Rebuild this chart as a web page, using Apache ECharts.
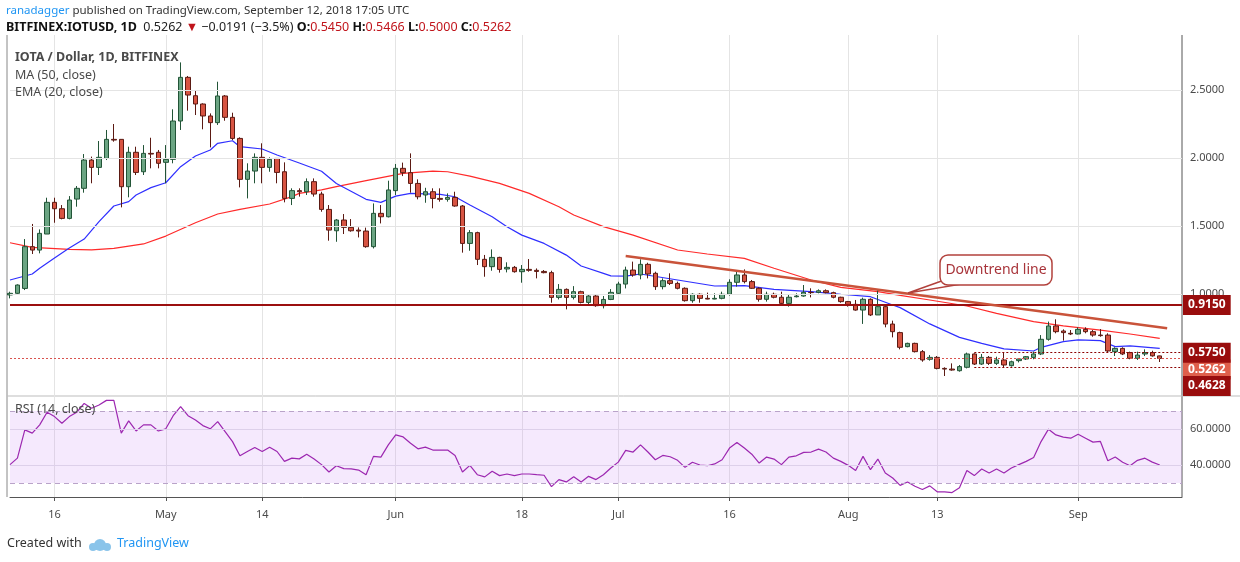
<!DOCTYPE html>
<html>
<head>
<meta charset="utf-8">
<script src="https://cdn.jsdelivr.net/npm/echarts@6/dist/echarts.min.js"></script>
<style>html,body{margin:0;padding:0;background:#fff;}#main{width:1240px;height:562px;}</style>
</head>
<body>
<div id="main"></div>
<script>
// 起始日期与K线数量(另加3个空白日)
var startDate = '2018-04-10';
var dayNum = 159;

// K线 [open, close, low, high]
var candles = [
 [0.993,1.005,0.968,1.017],[1.005,1.066,1.0,1.071],[1.041,1.348,1.029,1.404],[1.348,1.323,1.294,1.515],
 [1.323,1.446,1.299,1.475],[1.441,1.674,1.441,1.708],[1.674,1.627,1.524,1.708],[1.627,1.556,1.549,1.654],
 [1.556,1.691,1.549,1.72],[1.698,1.777,1.642,1.794],[1.777,1.985,1.745,2.029],[1.985,1.931,1.814,2.01],
 [1.931,2.005,1.875,2.125],[1.997,2.137,1.985,2.206],[2.137,2.132,2.12,2.25],[2.137,1.789,1.637,2.137],
 [1.789,2.042,1.711,2.083],[2.042,1.894,1.875,2.083],[1.899,2.034,1.875,2.095],[2.034,2.029,1.924,2.149],
 [2.042,1.961,1.924,2.059],[1.968,1.99,1.814,2.095],[1.99,2.272,1.961,2.358],[2.272,2.593,2.206,2.703],
 [2.593,2.463,2.348,2.603],[2.458,2.397,2.316,2.5],[2.397,2.309,2.211,2.402],[2.309,2.26,2.078,2.328],
 [2.26,2.456,2.243,2.561],[2.456,2.299,2.274,2.463],[2.299,2.144,2.132,2.333],[2.144,1.843,1.784,2.152],
 [1.843,1.904,1.703,1.961],[1.904,2.005,1.814,2.034],[2.005,1.931,1.814,2.108],[1.931,1.99,1.899,2.005],
 [1.997,1.894,1.814,2.0],[1.899,1.703,1.674,1.968],[1.703,1.76,1.654,1.777],[1.76,1.752,1.716,1.777],
 [1.752,1.826,1.728,1.85],[1.826,1.735,1.716,1.85],[1.735,1.622,1.605,1.752],[1.622,1.47,1.392,1.654],
 [1.465,1.544,1.384,1.551],[1.544,1.49,1.441,1.588],[1.49,1.465,1.458,1.551],[1.47,1.463,1.416,1.49],
 [1.463,1.348,1.34,1.488],[1.348,1.593,1.335,1.666],[1.593,1.568,1.519,1.654],[1.568,1.765,1.563,1.833],
 [1.76,1.924,1.728,1.956],[1.924,1.892,1.867,1.966],[1.892,1.813,1.745,2.034],[1.813,1.715,1.696,1.843],
 [1.728,1.752,1.671,1.781],[1.752,1.703,1.63,1.777],[1.703,1.696,1.679,1.777],[1.696,1.71,1.679,1.74],
 [1.71,1.647,1.642,1.752],[1.647,1.372,1.304,1.654],[1.372,1.451,1.318,1.47],[1.451,1.255,1.213,1.458],
 [1.255,1.201,1.127,1.287],[1.201,1.269,1.171,1.328],[1.269,1.181,1.157,1.274],[1.184,1.196,1.159,1.233],
 [1.196,1.164,1.157,1.206],[1.164,1.181,1.083,1.213],[1.181,1.174,1.164,1.257],[1.174,1.166,1.115,1.188],
 [1.166,1.157,1.152,1.176],[1.157,0.975,0.936,1.171],[0.975,1.034,0.96,1.073],[1.034,0.975,0.887,1.041],
 [0.975,1.017,0.96,1.058],[1.017,0.938,0.931,1.024],[0.938,0.985,0.926,0.992],[0.985,0.914,0.906,0.992],
 [0.914,0.96,0.894,0.985],[0.96,1.012,0.955,1.036],[1.005,1.073,1.0,1.09],[1.073,1.176,1.041,1.201],
 [1.176,1.14,1.127,1.238],[1.14,1.218,1.108,1.255],[1.218,1.147,1.115,1.23],[1.152,1.054,1.03,1.164],
 [1.054,1.098,1.034,1.115],[1.098,1.078,1.066,1.152],[1.078,1.042,1.034,1.091],[1.042,0.951,0.944,1.049],
 [0.951,0.998,0.936,1.005],[0.998,0.968,0.936,1.005],[0.968,0.963,0.961,1.01],[0.963,0.968,0.961,1.005],
 [0.968,0.998,0.961,1.017],[0.998,1.086,0.988,1.108],[1.086,1.14,1.054,1.171],[1.14,1.091,1.078,1.181],
 [1.091,1.042,1.037,1.103],[1.042,0.961,0.944,1.049],[0.961,0.998,0.944,1.017],[0.998,0.976,0.968,1.01],
 [0.976,0.931,0.919,1.017],[0.931,0.976,0.907,0.993],[0.98,0.985,0.975,1.005],[0.985,1.012,0.98,1.066],
 [1.012,1.01,0.975,1.042],[1.012,1.024,1.005,1.034],[1.024,1.01,1.005,1.034],[1.01,0.976,0.968,1.017],
 [0.976,0.944,0.936,0.98],[0.944,0.924,0.907,0.949],[0.924,0.882,0.877,0.956],[0.882,0.961,0.78,0.973],
 [0.961,0.846,0.838,0.968],[0.846,0.907,0.846,1.029],[0.907,0.779,0.755,0.912],[0.779,0.723,0.681,0.804],
 [0.716,0.608,0.593,0.723],[0.613,0.637,0.608,0.642],[0.637,0.576,0.57,0.642],[0.576,0.515,0.502,0.588],
 [0.52,0.534,0.51,0.551],[0.534,0.453,0.446,0.544],[0.453,0.448,0.397,0.461],[0.448,0.441,0.436,0.49],
 [0.436,0.466,0.429,0.478],[0.461,0.559,0.453,0.569],[0.559,0.485,0.478,0.564],[0.485,0.534,0.478,0.559],
 [0.534,0.49,0.478,0.544],[0.49,0.515,0.478,0.539],[0.515,0.478,0.461,0.569],[0.473,0.502,0.466,0.51],
 [0.51,0.522,0.497,0.527],[0.522,0.539,0.515,0.544],[0.534,0.559,0.52,0.576],[0.559,0.667,0.551,0.698],
 [0.667,0.765,0.657,0.797],[0.765,0.723,0.711,0.814],[0.728,0.716,0.657,0.74],[0.711,0.706,0.698,0.735],
 [0.706,0.74,0.703,0.755],[0.74,0.723,0.711,0.755],[0.723,0.698,0.686,0.735],[0.698,0.694,0.686,0.742],
 [0.698,0.581,0.569,0.711],[0.576,0.6,0.544,0.608],[0.6,0.559,0.551,0.608],[0.569,0.527,0.52,0.576],
 [0.527,0.551,0.515,0.576],[0.559,0.569,0.544,0.593],[0.569,0.545,0.539,0.583],[0.545,0.5262,0.5,0.5466]
];

// EMA(20) 读数 [K线序号, 值]
var ema20 = [[0,1.103],[3,1.147],[4,1.19],[6,1.265],[8,1.338],[10,1.404],[12,1.532],[14,1.647],[16,1.679],
 [17,1.728],[19,1.782],[21,1.818],[23,1.936],[25,2.015],[27,2.059],[28,2.108],[30,2.127],[31,2.083],[34,2.066],
 [36,2.022],[39,1.963],[42,1.903],[44,1.813],[48,1.696],[50,1.674],[52,1.72],[54,1.74],[58,1.732],[60,1.715],
 [62,1.654],[65,1.568],[67,1.495],[69,1.433],[72,1.372],[75,1.286],[77,1.206],[80,1.152],[81,1.133],[83,1.132],
 [85,1.147],[90,1.103],[95,1.059],[99,1.061],[103,1.034],[108,1.017],[112,0.998],[116,0.98],[119,0.919],
 [120,0.9],[124,0.78],[128,0.681],[131,0.637],[134,0.596],[138,0.581],[139,0.608],[142,0.65],[144,0.662],
 [147,0.657],[149,0.613],[151,0.618],[155,0.6]];

// MA(50) 读数
var ma50 = [[0,1.377],[3,1.343],[8,1.328],[11,1.324],[14,1.336],[18,1.368],[21,1.426],[25,1.524],[28,1.588],
 [31,1.622],[35,1.662],[38,1.716],[39,1.74],[42,1.765],[44,1.789],[48,1.833],[53,1.887],[57,1.904],[59,1.899],
 [62,1.867],[66,1.813],[70,1.74],[74,1.642],[76,1.581],[80,1.495],[84,1.433],[90,1.3235],[94,1.294],
 [99,1.262],[103,1.189],[108,1.103],[112,1.049],[117,1.017],[120,0.99],[124,0.956],[129,0.912],[133,0.858],
 [138,0.797],[142,0.765],[147,0.735],[151,0.706],[155,0.674]];

// RSI(14)
var rsi14 = [40.2,43.8,59.5,57.7,62.3,69.3,66.9,63.2,66.9,69.3,74.2,71.5,73.3,75.9,75.9,57.7,64.5,58.9,62.3,62.3,
 58.9,60.1,67.4,72.4,67.4,65,61.9,60.1,64.1,58.6,53,45.1,47.5,49.7,47.5,49.9,47.5,42,43.8,43.4,
 46,43.3,40.2,36.1,39.6,38,37.8,37.2,34.6,44.8,44.4,51.2,56.7,55.6,52.1,49,49.9,48.3,48.3,48.3,
 45.3,36.1,39.8,34.6,33.4,36.5,34.1,35,34.1,35,35,34.6,34.3,28,31.9,30.6,33.5,30.6,33.7,31.9,
 34.6,38.3,41.6,48.1,47.2,51.2,47.2,42.9,45.3,44.6,42.6,38.7,41.5,40,39.6,40.6,42.9,49.4,52.5,49.4,
 46,41.1,44.4,43.3,40.2,44.4,45.1,47,47.2,48.8,47.2,43.8,42,39.8,36.9,44.8,37.4,43.3,35.6,32.8,
 28.7,30.6,28.2,26.4,28.4,25.1,25.1,24.7,27.3,36.9,34.1,37.8,35.6,37.8,35.6,38.3,40.2,42,44.2,53,
 59.9,56.7,55.5,54.9,57.1,54.9,52.7,53.1,42.4,44.4,41.5,39.6,42.6,43.8,41.6,40];

// 趋势线端点
var trendLine = [[83,1.279],[156,0.749]];
// 水平价位
var resistance = 0.915;
var levelHigh = 0.575;
var levelLow = 0.4628;
var lastClose = 0.5262;

// X轴刻度
var tickDates = ['2018-04-16','2018-05-01','2018-05-14','2018-06-01','2018-06-18','2018-07-01','2018-07-16','2018-08-01','2018-08-13','2018-09-01'];
var tickTexts = ['16','May','14','Jun','18','Jul','16','Aug','13','Sep'];
var priceTicks = [1, 1.5, 2, 2.5];
var rsiTicks = [40, 60];

var dates = [];
(function () {
    var d = new Date(startDate + 'T00:00:00Z');
    for (var i = 0; i < dayNum; i++) {
        dates.push(d.toISOString().slice(0, 10));
        d.setUTCDate(d.getUTCDate() + 1);
    }
})();

function isTick(idx, val) {
    return tickDates.indexOf(val) >= 0;
}

var FONT = 'Noto Sans';
var gridColor = '#e4e4e4';

function priceLabel(v, bg, dy) {
    return {formatter: v.toFixed(4), position: 'end', distance: 1, offset: [0, dy], backgroundColor: bg,
        color: '#fff', fontWeight: 'bold', fontSize: 12, padding: [4, 5]};
}

var chart = echarts.init(document.getElementById('main'));

var option = {
    animation: false,
    backgroundColor: '#fff',
    textStyle: {fontFamily: FONT},
    grid: [
        {left: 10, right: 58, top: 22, bottom: 132},
        {left: 10, right: 58, top: 357, bottom: 25},
        {left: 10, right: 58, top: 35, bottom: 65}
    ],
    xAxis: [
        {type: 'category', gridIndex: 0, data: dates, boundaryGap: false, show: false},
        {type: 'category', gridIndex: 1, data: dates, boundaryGap: false, show: false},
        {type: 'category', gridIndex: 2, data: dates, boundaryGap: false,
            axisLine: {lineStyle: {color: '#555'}},
            axisTick: {interval: isTick, length: 4, lineStyle: {color: '#555'}},
            splitLine: {show: true, interval: isTick, lineStyle: {color: gridColor}},
            axisLabel: {interval: isTick, color: '#4a4a4a', fontSize: 11, margin: 12, fontFamily: FONT,
                formatter: function (v) { return tickTexts[tickDates.indexOf(v)]; }}
        }
    ],
    yAxis: [
        {type: 'value', gridIndex: 0, position: 'right', min: 0, max: 3, interval: 0.5,
            axisLine: {show: false}, axisTick: {show: false}, splitLine: {show: false},
            axisLabel: {color: '#4a4a4a', fontSize: 11, margin: 8, fontFamily: FONT,
                formatter: function (v) { return priceTicks.indexOf(v) >= 0 ? v.toFixed(4) : ''; }}
        },
        {type: 'value', gridIndex: 1, position: 'right', min: 0, max: 100, interval: 20,
            axisLine: {show: false}, axisTick: {show: false}, splitLine: {show: false},
            axisLabel: {color: '#4a4a4a', fontSize: 11, margin: 8, fontFamily: FONT,
                formatter: function (v) { return rsiTicks.indexOf(v) >= 0 ? v.toFixed(4) : ''; }}
        },
        {type: 'value', gridIndex: 2, show: false}
    ],
    series: [
        {
            name: 'grid', type: 'line', xAxisIndex: 0, yAxisIndex: 0, data: [], silent: true,
            markLine: {silent: true, symbol: 'none', label: {show: false},
                lineStyle: {color: gridColor, type: 'solid', width: 1},
                data: priceTicks.map(function (v) { return {yAxis: v}; })}
        },
        {
            name: 'MA', type: 'line', xAxisIndex: 0, yAxisIndex: 0, data: ma50, showSymbol: false,
            lineStyle: {color: '#ff2a2a', width: 1.2}, z: 3
        },
        {
            name: 'EMA', type: 'line', xAxisIndex: 0, yAxisIndex: 0, data: ema20, showSymbol: false,
            lineStyle: {color: '#2f2fff', width: 1.2}, z: 3
        },
        {
            name: 'IOTUSD', type: 'candlestick', xAxisIndex: 0, yAxisIndex: 0, data: candles,
            barWidth: 5, clip: false, z: 4,
            itemStyle: {color: '#6ba583', color0: '#d75442', borderColor: '#225437', borderColor0: '#5b1a13', borderWidth: 1},
            markLine: {
                silent: true, symbol: 'none',
                data: [
                    {yAxis: resistance, lineStyle: {color: '#9b0f0f', width: 2, type: 'solid'},
                        label: priceLabel(resistance, '#990d0d', 0)},
                    [{coord: [0, lastClose], lineStyle: {color: '#d9534f', width: 1, type: [2, 2]},
                        label: priceLabel(lastClose, '#df5f4b', 11)},
                     {coord: [158, lastClose]}],
                    [{coord: [130, levelHigh], lineStyle: {color: '#8b0000', width: 1, type: [2, 2]},
                        label: priceLabel(levelHigh, '#990d0d', 1)},
                     {coord: [158, levelHigh]}],
                    [{coord: [130, levelLow], lineStyle: {color: '#8b0000', width: 1, type: [2, 2]},
                        label: priceLabel(levelLow, '#990d0d', 19)},
                     {coord: [158, levelLow]}]
                ]
            }
        },
        {
            name: 'Trend', type: 'line', xAxisIndex: 0, yAxisIndex: 0, data: trendLine, showSymbol: false,
            lineStyle: {color: '#c9533a', width: 2.5}, z: 5
        },
        {
            name: 'RSI', type: 'line', xAxisIndex: 1, yAxisIndex: 1, data: rsi14, showSymbol: false,
            lineStyle: {color: '#9c27b0', width: 1.2}, z: 3,
            markArea: {silent: true, itemStyle: {color: 'rgba(206,147,245,0.2)'}, data: [[{yAxis: 30}, {yAxis: 70}]]},
            markLine: {silent: true, symbol: 'none', label: {show: false},
                data: [
                    {yAxis: 70, lineStyle: {color: '#b9a3c9', type: [5, 4], width: 1}},
                    {yAxis: 30, lineStyle: {color: '#b9a3c9', type: [5, 4], width: 1}},
                    {yAxis: 60, lineStyle: {color: '#ddd0ea', type: 'solid', width: 1}},
                    {yAxis: 40, lineStyle: {color: '#ddd0ea', type: 'solid', width: 1}}
                ]}
        }
    ],
    graphic: [
        {type: 'line', shape: {x1: 1182, y1: 35, x2: 1182, y2: 497}, style: {stroke: '#555', lineWidth: 1}},
        {type: 'line', shape: {x1: 7, y1: 35, x2: 7, y2: 497}, style: {stroke: '#888', lineWidth: 1}},
        {type: 'line', shape: {x1: 7, y1: 396, x2: 1240, y2: 396}, style: {stroke: '#bdbdbd', lineWidth: 1}},
        {type: 'text', left: 6, top: 5, style: {
            text: '{b|ranadagger} published on TradingView.com, September 12, 2018 17:05 UTC',
            font: '11.5px ' + FONT, fill: '#333',
            rich: {b: {fill: '#2196f3', font: '11.5px ' + FONT}}}},
        {type: 'text', left: 6, top: 21, style: {
            text: '{k|BITFINEX:IOTUSD, 1D}  0.5262 {r|▼} −0.0191 (−3.5%) {k|O:}{r|0.5450} {k|H:}{r|0.5466} {k|L:}{r|0.5000} {k|C:}{r|0.5262}',
            font: '12.5px ' + FONT, fill: '#222',
            rich: {k: {font: 'bold 12.5px ' + FONT, fill: '#111'}, r: {fill: '#c0141b', font: '12.5px ' + FONT}}}},
        {type: 'text', left: 15, top: 51, z: 20, style: {text: 'IOTA / Dollar, 1D, BITFINEX', font: 'bold 12.5px ' + FONT, fill: '#4a4a4a'}},
        {type: 'text', left: 15, top: 69, z: 20, style: {text: 'MA (50, close)', font: '12.5px ' + FONT, fill: '#4a4a4a'}},
        {type: 'text', left: 15, top: 86, z: 20, style: {text: 'EMA (20, close)', font: '12.5px ' + FONT, fill: '#4a4a4a'}},
        {type: 'text', left: 15, top: 403, z: 20, style: {text: 'RSI (14, close)', font: '12.5px ' + FONT, fill: '#4a4a4a'}},
        {type: 'polygon', shape: {points: [[950, 278], [908, 293], [962, 284]]}, style: {fill: '#fff', stroke: '#b2413c', lineWidth: 1.5}, z: 10},
        {type: 'rect', shape: {x: 940, y: 255, width: 112, height: 30, r: 8}, style: {fill: '#fff', stroke: '#b2413c', lineWidth: 1.5}, z: 11},
        {type: 'text', x: 996, y: 270, style: {text: 'Downtrend line', align: 'center', verticalAlign: 'middle', font: '14px ' + FONT, fill: '#a8343a'}, z: 12},
        {type: 'text', left: 7, top: 537, style: {text: 'Created with', font: '12.5px ' + FONT, fill: '#333'}},
        {type: 'text', left: 117, top: 537, style: {text: 'TradingView', font: '12.5px ' + FONT, fill: '#2196f3'}},
        {type: 'circle', shape: {cx: 100, cy: 545, r: 6}, style: {fill: '#8ac4ea'}},
        {type: 'circle', shape: {cx: 93, cy: 547, r: 4}, style: {fill: '#8ac4ea'}},
        {type: 'circle', shape: {cx: 107, cy: 547, r: 4}, style: {fill: '#8ac4ea'}}
    ]
};

chart.setOption(option);
</script>
</body>
</html>
